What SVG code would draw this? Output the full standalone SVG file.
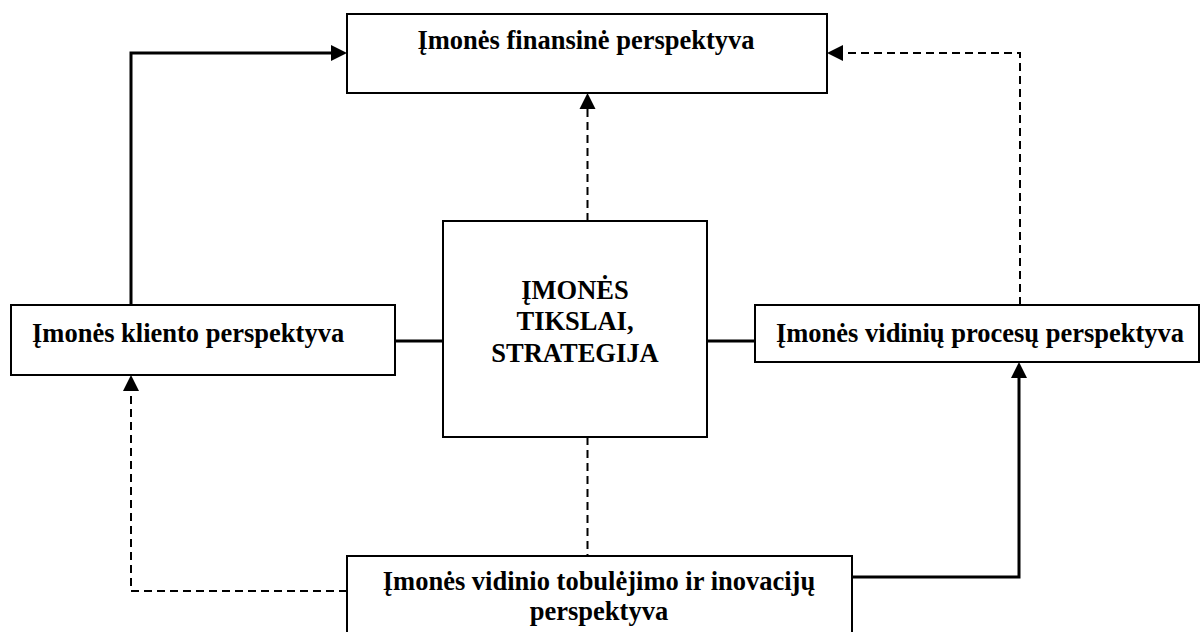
<svg xmlns="http://www.w3.org/2000/svg" width="1201" height="632" viewBox="0 0 1201 632">
  <defs>
    <style>
      .box { fill: #fff; stroke: #000; stroke-width: 2; }
      .lbl { font-family: "Liberation Serif", "Times New Roman", serif; font-weight: bold; font-size: 26.5px; fill: #000; }
      .mid { text-anchor: middle; }
      .solid { fill: none; stroke: #000; stroke-width: 3; }
      .dash { fill: none; stroke: #000; stroke-width: 2; stroke-dasharray: 8 5; }
    </style>
    <!-- arrowhead: tip sits 10px beyond the end of the path -->
    <marker id="arrow" markerUnits="userSpaceOnUse" markerWidth="18" markerHeight="18" refX="6" refY="8" orient="auto" overflow="visible">
      <path d="M0,0 L16,8 L0,16 Z" fill="#000" stroke="none"/>
    </marker>
  </defs>

  <rect width="1201" height="632" fill="#fff"/>

  <g id="connectors">
    <!-- customer -> finance -->
    <path class="solid" d="M131,305 V53 H337" marker-end="url(#arrow)"/>
    <!-- customer — strategy -->
    <path class="solid" d="M395,341 H443"/>
    <!-- strategy — internal processes -->
    <path class="solid" d="M707,341 H755"/>
    <!-- strategy -> finance -->
    <path class="dash" d="M587.5,221 V103" marker-end="url(#arrow)"/>
    <!-- internal processes -> finance -->
    <path class="dash" d="M1020,305 V53 H837" marker-end="url(#arrow)"/>
    <!-- learning & growth -> internal processes -->
    <path class="solid" d="M852,577 H1019 V372" marker-end="url(#arrow)"/>
    <!-- learning & growth -> customer -->
    <path class="dash" d="M347,591 H131 V385" marker-end="url(#arrow)"/>
    <!-- strategy — learning & growth -->
    <path class="dash" d="M587.5,437 V556"/>
  </g>

  <g id="finance">
    <rect class="box" x="347" y="14" width="480" height="79"/>
    <text class="lbl mid" x="586" y="48.5">Įmonės finansinė perspektyva</text>
  </g>

  <g id="customer">
    <rect class="box" x="11" y="305" width="384" height="70"/>
    <text class="lbl" x="32" y="342">Įmonės kliento perspektyva</text>
  </g>

  <g id="strategy">
    <rect class="box" x="443" y="221" width="264" height="216"/>
    <text class="lbl mid" x="575" y="299">ĮMONĖS</text>
    <text class="lbl mid" x="575" y="330">TIKSLAI,</text>
    <text class="lbl mid" x="575" y="361.5">STRATEGIJA</text>
  </g>

  <g id="processes">
    <rect class="box" x="755" y="305" width="444" height="57"/>
    <text class="lbl mid" x="980" y="342">Įmonės vidinių procesų perspektyva</text>
  </g>

  <g id="learning">
    <rect class="box" x="347" y="556" width="505" height="90"/>
    <text class="lbl mid" x="599" y="589.5">Įmonės vidinio tobulėjimo ir inovacijų</text>
    <text class="lbl mid" x="599" y="619.5">perspektyva</text>
  </g>
</svg>
